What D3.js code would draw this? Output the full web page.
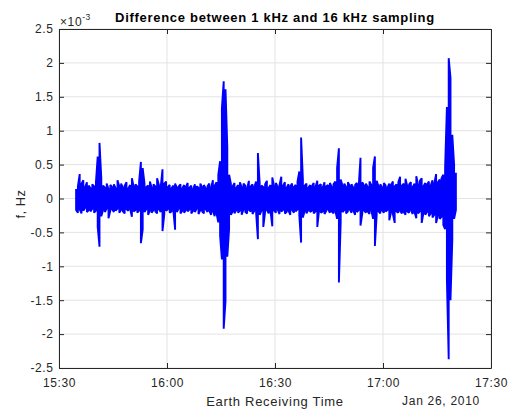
<!DOCTYPE html>
<html>
<head>
<meta charset="utf-8">
<script src="https://cdn.jsdelivr.net/npm/d3@7"></script>
<style>
  body { margin: 0; background: #fff; }
  text { font-family: "Liberation Sans", Arial, Helvetica, sans-serif; fill: #262626; }
</style>
</head>
<body>
<div id="viz"></div>
<script>
// chart size
var width = 513;
var height = 412;
var margin = { t: 29, l: 59, b: 44, r: 22 };

// axis ticks
var yTicks = [-2.5, -2, -1.5, -1, -0.5, 0, 0.5, 1, 1.5, 2, 2.5];
var xTickLabels = ["15:30", "16:00", "16:30", "17:00", "17:30"];

// samples: one bin every 30 s from 15:34:45, max and min of the difference (x 1e-3 Hz)
var sampleStart = "2010-01-26T15:34:45";
var sampleStepSec = 30;
var binHi = [
  0.14, 0.18, 0.36, 0.22, 0.27, 0.17, 0.24, 0.19, 0.15, 0.21,
  0.18, 0.23, 0.62, 0.82, 0.30, 0.19, 0.16, 0.22, 0.14, 0.20,
  0.17, 0.21, 0.15, 0.27, 0.18, 0.22, 0.16, 0.19, 0.24, 0.15,
  0.20, 0.30, 0.17, 0.21, 0.18, 0.25, 0.54, 0.45, 0.22, 0.17,
  0.19, 0.25, 0.16, 0.21, 0.18, 0.30, 0.20, 0.17, 0.43, 0.22,
  0.25, 0.17, 0.20, 0.15, 0.19, 0.22, 0.16, 0.18, 0.21, 0.15,
  0.20, 0.17, 0.23, 0.16, 0.19, 0.14, 0.21, 0.18, 0.16, 0.22,
  0.17, 0.20, 0.15, 0.18, 0.22, 0.16, 0.27, 0.19, 0.24, 0.35,
  0.55, 1.33, 1.73, 1.61, 0.76, 0.35, 0.22, 0.18, 0.23, 0.16,
  0.20, 0.24, 0.17, 0.22, 0.19, 0.15, 0.26, 0.18, 0.21, 0.17,
  0.25, 0.67, 0.22, 0.19, 0.17, 0.21, 0.26, 0.16, 0.20, 0.31,
  0.18, 0.23, 0.17, 0.20, 0.32, 0.19, 0.24, 0.16, 0.21, 0.18,
  0.22, 0.17, 0.20, 0.25, 0.40, 0.90, 0.28, 0.19, 0.22, 0.16,
  0.20, 0.18, 0.23, 0.17, 0.26, 0.19, 0.21, 0.16, 0.24, 0.18,
  0.20, 0.23, 0.17, 0.21, 0.25, 0.45, 0.74, 0.28, 0.19, 0.22,
  0.17, 0.24, 0.19, 0.21, 0.16, 0.20, 0.23, 0.18, 0.60, 0.24,
  0.19, 0.22, 0.17, 0.25, 0.20, 0.45, 0.62, 0.26, 0.18, 0.21,
  0.17, 0.23, 0.19, 0.16, 0.22, 0.20, 0.25, 0.18, 0.21, 0.24,
  0.32, 0.19, 0.22, 0.29, 0.18, 0.21, 0.24, 0.17, 0.22, 0.33,
  0.20, 0.26, 0.30, 0.18, 0.23, 0.21, 0.25, 0.19, 0.27, 0.22,
  0.36, 0.24, 0.28, 0.30, 0.35, 0.45, 1.35, 2.07, 1.78, 0.94,
  0.50, 0.38
];
var binLo = [
  -0.17, -0.21, -0.16, -0.22, -0.18, -0.14, -0.20, -0.17, -0.19, -0.15,
  -0.21, -0.18, -0.42, -0.71, -0.26, -0.17, -0.20, -0.15, -0.29, -0.18,
  -0.16, -0.20, -0.18, -0.15, -0.21, -0.17, -0.19, -0.22, -0.16, -0.18,
  -0.15, -0.27, -0.19, -0.17, -0.21, -0.18, -0.66, -0.46, -0.20, -0.16,
  -0.24, -0.18, -0.21, -0.17, -0.19, -0.22, -0.16, -0.20, -0.48, -0.23,
  -0.18, -0.16, -0.21, -0.19, -0.17, -0.46, -0.20, -0.15, -0.22, -0.18,
  -0.21, -0.17, -0.19, -0.16, -0.22, -0.18, -0.20, -0.15, -0.23, -0.17,
  -0.19, -0.22, -0.16, -0.20, -0.18, -0.24, -0.19, -0.26, -0.22, -0.35,
  -0.55, -0.90, -1.92, -1.52, -0.86, -0.45, -0.24, -0.19, -0.22, -0.17,
  -0.21, -0.18, -0.24, -0.16, -0.20, -0.22, -0.17, -0.19, -0.23, -0.18,
  -0.21, -0.60, -0.24, -0.18, -0.42, -0.20, -0.17, -0.22, -0.19, -0.41,
  -0.18, -0.21, -0.16, -0.23, -0.19, -0.17, -0.22, -0.20, -0.18, -0.24,
  -0.17, -0.21, -0.19, -0.16, -0.25, -0.65, -0.28, -0.18, -0.22, -0.17,
  -0.20, -0.18, -0.22, -0.19, -0.42, -0.17, -0.21, -0.19, -0.23, -0.18,
  -0.16, -0.21, -0.19, -0.22, -0.18, -0.30, -1.24, -0.35, -0.20, -0.17,
  -0.22, -0.19, -0.16, -0.21, -0.18, -0.24, -0.20, -0.17, -0.40, -0.22,
  -0.18, -0.21, -0.19, -0.23, -0.17, -0.30, -0.70, -0.24, -0.19, -0.22,
  -0.18, -0.21, -0.19, -0.17, -0.32, -0.20, -0.23, -0.36, -0.19, -0.21,
  -0.18, -0.22, -0.20, -0.24, -0.19, -0.21, -0.17, -0.23, -0.20, -0.29,
  -0.22, -0.19, -0.36, -0.21, -0.24, -0.20, -0.26, -0.22, -0.28, -0.24,
  -0.36, -0.25, -0.30, -0.27, -0.39, -0.45, -1.20, -2.37, -1.50, -0.61,
  -0.30, -0.17
];

var parseT = d3.timeParse("%Y-%m-%dT%H:%M:%S");
var t0 = parseT(sampleStart);
var day = "2010-01-26T";

// zigzag through each bin: max then min, min then max
var pts = [];
binHi.forEach(function(h, i) {
  var t = d3.timeSecond.offset(t0, i * sampleStepSec);
  if (i % 2 === 0) { pts.push([t, h]); pts.push([t, binLo[i]]); }
  else { pts.push([t, binLo[i]]); pts.push([t, h]); }
});

var svg = d3.select('#viz').append('svg')
  .attr('width', width)
  .attr('height', height);

var x = d3.scaleTime()
  .domain([parseT(day + "15:30:00"), parseT(day + "17:30:00")])
  .range([margin.l, width - margin.r]);
var y = d3.scaleLinear()
  .domain([-2.5, 2.5])
  .range([height - margin.b, margin.t]);

var xTickVals = xTickLabels.map(function(s) { return parseT(day + s + ":00"); });
var fmtY = function(d) { return String(d); };

// grid
var g_grid = svg.append('g').attr('class', 'grid');
g_grid.selectAll('line.gx').data(xTickVals).enter().append('line')
  .attr('x1', d => x(d)).attr('x2', d => x(d))
  .attr('y1', margin.t).attr('y2', height - margin.b)
  .attr('stroke', '#e3e3e3').attr('stroke-width', 1);
g_grid.selectAll('line.gy').data(yTicks).enter().append('line')
  .attr('y1', d => y(d)).attr('y2', d => y(d))
  .attr('x1', margin.l).attr('x2', width - margin.r)
  .attr('stroke', '#e3e3e3').attr('stroke-width', 1);

// data
var line = d3.line().x(d => x(d[0])).y(d => y(d[1]));
svg.append('path')
  .datum(pts)
  .attr('d', line)
  .attr('fill', 'none')
  .attr('stroke', '#0000ff')
  .attr('stroke-width', 1.9)
  .attr('stroke-linejoin', 'bevel');

// axes (MATLAB style: ticks inside, box on)
var axCol = '#262626';
var xB = d3.axisBottom(x).tickValues(xTickVals).tickFormat(d3.timeFormat("%H:%M")).tickSizeInner(-5).tickSizeOuter(0).tickPadding(10);
var xT = d3.axisTop(x).tickValues(xTickVals).tickFormat('').tickSizeInner(-5).tickSizeOuter(0);
var yL = d3.axisLeft(y).tickValues(yTicks).tickFormat(fmtY).tickSizeInner(-5).tickSizeOuter(0).tickPadding(5.5);
var yR = d3.axisRight(y).tickValues(yTicks).tickFormat('').tickSizeInner(-5).tickSizeOuter(0);

function styleAxis(g) {
  g.select('.domain').attr('stroke', axCol);
  g.selectAll('.tick line').attr('stroke', axCol);
  g.selectAll('.tick text').attr('fill', axCol)
    .style('font-family', '"Liberation Sans", Arial, sans-serif')
    .style('font-size', '12px')
    .style('letter-spacing', '0.6px');
}

svg.append('g').attr('transform', `translate(0,${height - margin.b})`).call(xB).call(styleAxis);
svg.append('g').attr('transform', `translate(0,${margin.t})`).call(xT).call(styleAxis);
svg.append('g').attr('transform', `translate(${margin.l},0)`).call(yL).call(styleAxis);
svg.append('g').attr('transform', `translate(${width - margin.r},0)`).call(yR).call(styleAxis);

// exponent
var exp = svg.append('text')
  .attr('x', margin.l + 1)
  .attr('y', 26)
  .style('font-size', '12px')
  .style('letter-spacing', '0.6px');
exp.append('tspan').text('\u00d710');
exp.append('tspan').attr('dy', -6).style('font-size', '8.5px').text('-3');

// title
svg.append('text')
  .attr('x', (margin.l + width - margin.r) / 2)
  .attr('y', 21.5)
  .attr('text-anchor', 'middle')
  .style('font-size', '13px')
  .style('font-weight', 'bold')
  .style('letter-spacing', '0.7px')
  .style('fill', '#000')
  .text('Difference between 1 kHz and 16 kHz sampling');

// axis labels
svg.append('text')
  .attr('x', (margin.l + width - margin.r) / 2)
  .attr('y', 406)
  .attr('text-anchor', 'middle')
  .style('font-size', '13px')
  .style('letter-spacing', '0.7px')
  .text('Earth Receiving Time');

svg.append('text')
  .attr('x', 441)
  .attr('y', 405)
  .attr('text-anchor', 'middle')
  .style('font-size', '12px')
  .style('letter-spacing', '0.7px')
  .text('Jan 26, 2010');

svg.append('text')
  .attr('transform', 'translate(25,204) rotate(-90)')
  .attr('text-anchor', 'middle')
  .style('font-size', '13px')
  .style('letter-spacing', '0.5px')
  .text('f, Hz');
</script>
</body>
</html>
